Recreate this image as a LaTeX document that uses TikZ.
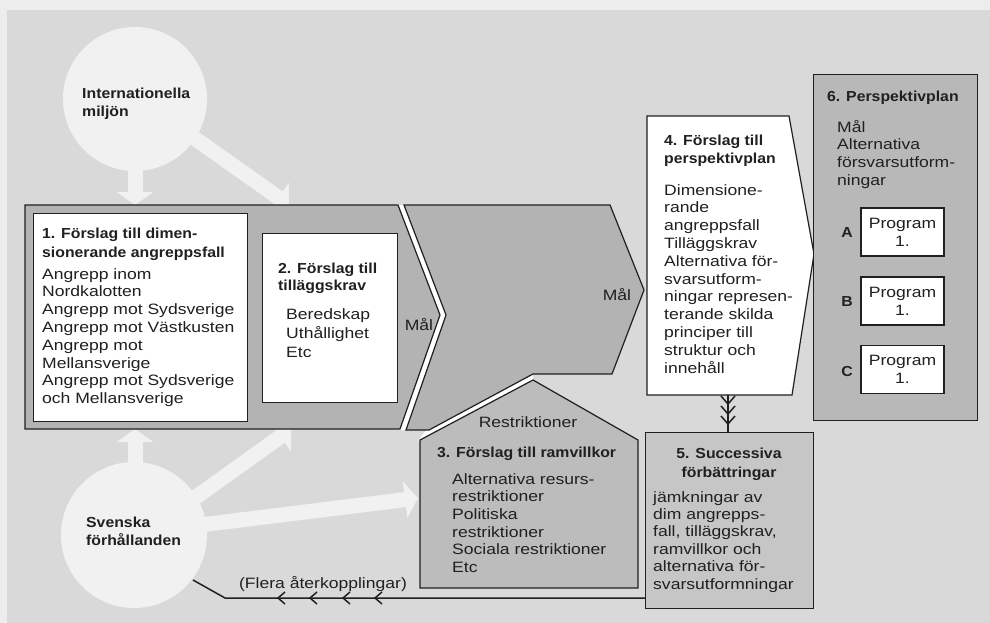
\documentclass[tikz,border=0pt]{standalone}
\usepackage{fontspec}
\usetikzlibrary{arrows.meta}
\newfontfamily\rf{Liberation Sans}[FakeStretch=1.17]
\newfontfamily\bff{Liberation Sans}[FakeStretch=1.09]
\definecolor{marg}{HTML}{EDEDED}
\definecolor{panel}{HTML}{D9D9D9}
\definecolor{pale}{HTML}{F1F1F1}
\definecolor{bandc}{HTML}{B3B3B3}
\definecolor{housec}{HTML}{BCBCBC}
\definecolor{fivec}{HTML}{C6C6C6}
\definecolor{sixc}{HTML}{B8B8B8}
\definecolor{ink}{HTML}{202020}
\tikzset{
  reg/.style={anchor=north west, inner sep=0pt, align=left, text=ink, font=\rf\fontsize{15}{17.8}\selectfont},
  hd/.style={anchor=north west, inner sep=0pt, align=left, text=ink, font=\bff\bfseries\fontsize{14.5}{18.5}\selectfont},
  outline/.style={draw=ink, line width=1.2pt, line join=miter},
  whitebox/.style={outline, fill=white, anchor=north west, inner sep=0pt},
  progbox/.style={outline, fill=white, minimum width=83pt, minimum height=48pt, inner sep=0pt, align=center, text=ink, font=\rf\fontsize{15}{18}\selectfont},
  wide/.style={pale, line width=15pt, -{Triangle[width=36pt,length=13pt]}},
  conn/.style={ink, line width=1.5pt, line join=miter},
}
\begin{document}
\begin{tikzpicture}[x=1pt,y=-1pt]
\useasboundingbox (0,0) rectangle (990,623);
% background
\fill[marg] (0,0) rectangle (990,623);
\fill[panel] (7,10) rectangle (990,623);
% circles
\fill[pale] (135,99) circle (72);
\fill[pale] (134,535) circle (73);
% wide light arrows
\draw[wide] (135,165) -- (135,205);
\draw[wide] (180,128) -- (289,205);
\draw[wide] (135,470) -- (135,429);
\draw[wide] (185,505) -- (291,429);
\draw[wide] (200,525) -- (418,498);
% white seams
\fill[white] (396,205) -- (407,205) -- (448,315) -- (408,430) -- (398,430) -- (439,315) -- cycle;
\fill[white] (533,371) -- (427,429) -- (418,441) -- (533,383) -- cycle;
% bands
\draw[outline, fill=bandc] (25,205) -- (398,205) -- (440,315) -- (400,429) -- (25,429) -- cycle;
\draw[outline, fill=bandc] (404,205) -- (610,205) -- (644,290) -- (612,374) -- (533,374) -- (429,430) -- (406,430) -- (446,315) -- cycle;
% house 3
\draw[outline, fill=housec] (420,588) -- (420,440) -- (533,380) -- (638,440) -- (638,588) -- cycle;
% box 1 and 2
\node[whitebox, minimum width=214pt, minimum height=208pt] (box1) at (33,213) {};
\node[whitebox, minimum width=135pt, minimum height=169pt] (box2) at (262,233) {};
% box 4
\draw[outline, fill=white] (647,116) -- (789,116) -- (814,254) -- (792,395) -- (647,395) -- cycle;
% box 5 and 6
\node[outline, fill=fivec, anchor=north west, minimum width=168pt, minimum height=176pt, inner sep=0pt] (box5) at (645,432) {};
\node[outline, fill=sixc, anchor=north west, minimum width=164pt, minimum height=346pt, inner sep=0pt] (box6) at (813,74) {};
% program boxes
\node[progbox] (pa) at (902.5,232) {Program\\1.};
\node[progbox] (pb) at (902.5,301) {Program\\1.};
\node[progbox] (pc) at (902.5,369.5) {Program\\1.};
% connector 4 -> 5
\coordinate (b4s) at (728,395);
\coordinate (b5n) at (728,432);
\draw[conn] (b4s) -- (b5n);
\draw[conn] (721,396) -- (728,404) -- (735,396);
\draw[conn] (721,406) -- (728,414) -- (735,406);
\draw[conn] (721,416) -- (728,424) -- (735,416);
% feedback
\coordinate (fb0) at (645,598);
\coordinate (fb1) at (225,598);
\coordinate (fb2) at (193,580);
\draw[conn] (fb0) -- (fb1) -- (fb2);
\foreach \xx in {278,310,343,375} \draw[conn] (\xx+7,592) -- (\xx,598) -- (\xx+7,604);
% texts
\node[hd] (intl) at (82,85) {\strut Internationella\\miljön};
\node[hd] (sve) at (86,514) {\strut Svenska\\förhållanden};
\node[hd, font=\bff\bfseries\fontsize{14.5}{19}\selectfont] (t1h) at (42,224.7) {\strut 1. Förslag till dimen-\\sionerande angreppsfall};
\node[reg] (t1) at (42,266.5) {\strut Angrepp inom\\Nordkalotten\\Angrepp mot Sydsverige\\Angrepp mot Västkusten\\Angrepp mot\\Mellansverige\\Angrepp mot Sydsverige\\och Mellansverige};
\node[hd, font=\bff\bfseries\fontsize{14.5}{17.5}\selectfont] (t2h) at (278,260.7) {\strut 2. Förslag till\\tilläggskrav};
\node[reg, font=\rf\fontsize{15}{19}\selectfont] (t2) at (286,306) {\strut Beredskap\\Uthållighet\\Etc};
\node[anchor=base, inner sep=0pt, text=ink, font=\rf\fontsize{15}{16}\selectfont] (mal1) at (419,330) {Mål};
\node[anchor=base, inner sep=0pt, text=ink, font=\rf\fontsize{15}{16}\selectfont] (mal2) at (617,300) {Mål};
\node[anchor=base, inner sep=0pt, text=ink, font=\rf\fontsize{15}{16}\selectfont] (restr) at (528,427) {Restriktioner};
\node[hd] (t3h) at (437,444) {\strut 3. Förslag till ramvillkor};
\node[reg, font=\rf\fontsize{15}{17.7}\selectfont] (t3) at (452,471.6) {\strut Alternativa resurs-\\restriktioner\\Politiska\\restriktioner\\Sociala restriktioner\\Etc};
\node[hd, font=\bff\bfseries\fontsize{14.5}{18}\selectfont] (t4h) at (664,132.4) {\strut 4. Förslag till\\perspektivplan};
\node[reg] (t4) at (664,182.5) {\strut Dimensione-\\rande\\angreppsfall\\Tilläggskrav\\Alternativa för-\\svarsutform-\\ningar represen-\\terande skilda\\principer till\\struktur och\\innehåll};
\node[hd, anchor=north, align=center, font=\bff\bfseries\fontsize{14.5}{19}\selectfont] (t5h) at (729,444.7) {\strut 5. Successiva\\förbättringar};
\node[reg, font=\rf\fontsize{15}{17.4}\selectfont] (t5) at (653,489.8) {\strut jämkningar av\\dim angrepps-\\fall, tilläggskrav,\\ramvillkor och\\alternativa för-\\svarsutformningar};
\node[hd] (t6h) at (827,88) {\strut 6. Perspektivplan};
\node[reg, font=\rf\fontsize{15}{17.7}\selectfont] (t6) at (837,119.6) {\strut Mål\\Alternativa\\försvarsutform-\\ningar};
\node[inner sep=0pt, text=ink, font=\bff\bfseries\fontsize{14.5}{16}\selectfont] (la) at (847,233) {A};
\node[inner sep=0pt, text=ink, font=\bff\bfseries\fontsize{14.5}{16}\selectfont] (lb) at (847,302) {B};
\node[inner sep=0pt, text=ink, font=\bff\bfseries\fontsize{14.5}{16}\selectfont] (lc) at (847,372) {C};
\node[anchor=base, inner sep=0pt, text=ink, font=\rf\fontsize{15}{16}\selectfont] (fbl) at (323,588) {(Flera återkopplingar)};
\end{tikzpicture}
\end{document}
